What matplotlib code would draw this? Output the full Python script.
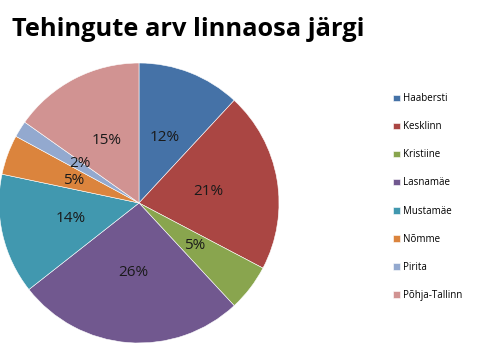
import matplotlib
matplotlib.use("Agg")
import matplotlib.pyplot as plt

# Share of transactions by district (percent)
districts = ["Haabersti", "Kesklinn", "Kristiine", "Lasnamäe",
             "Mustamäe", "Nõmme", "Pirita", "Põhja-Tallinn"]
shares = [11.9, 20.8, 5.4, 26.3, 13.9, 4.6, 1.9, 15.2]
colors = ["#4572A7", "#AA4643", "#89A54E", "#71588F",
          "#4198AF", "#DB843D", "#93A9CF", "#D19392"]

plt.rcParams['font.family'] = ['Open Sans', 'DejaVu Sans']

fig = plt.figure(figsize=(4.8, 3.54), dpi=100)
fig.patch.set_facecolor("white")

# pie axes: centre ~ (139, 203) px, radius ~140 px
ax = fig.add_axes([-1 / 480, 11 / 354, 280 / 480, 280 / 354])
wedges, texts, autotexts = ax.pie(
    shares, colors=colors, startangle=90, counterclock=False,
    autopct='%.0f%%', pctdistance=0.5, radius=1,
    wedgeprops=dict(linewidth=0.4, edgecolor="white"),
    textprops=dict(fontsize=11, color="#1a1a1a"))
ax.set_xlim(-1, 1)
ax.set_ylim(-1, 1)
ax.set_aspect("equal")
ax.axis("off")

# the 2% and 5% labels sit very close; pull them apart a little
x, y = autotexts[6].get_position()
autotexts[6].set_position((x, y + 0.02))
x, y = autotexts[5].get_position()
autotexts[5].set_position((x, y - 0.015))

fig.text(12 / 480, 1 - 36 / 354, "Tehingute arv linnaosa järgi",
         fontsize=18.3, fontweight="bold", color="black", va="baseline")

fig.legend(wedges, districts, loc="center left",
           bbox_to_anchor=(384 / 480, 1 - 197 / 354), frameon=False,
           fontsize=7, handlelength=0.7, handleheight=0.7,
           handletextpad=0.4, labelspacing=1.75)

fig.savefig("out.png", dpi=100)
